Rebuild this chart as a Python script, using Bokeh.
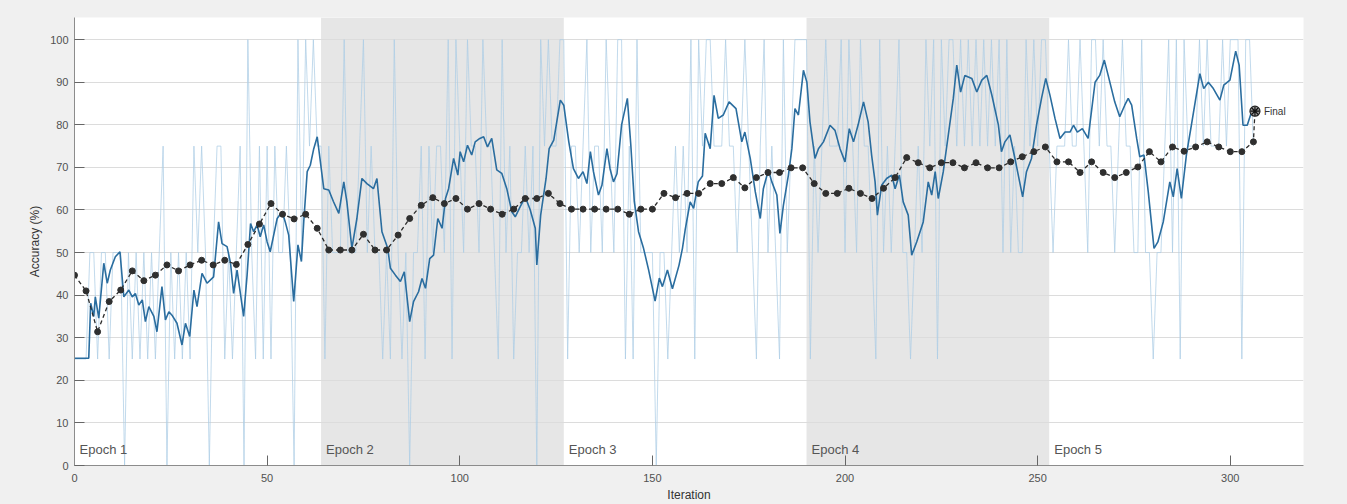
from bokeh.plotting import figure
from bokeh.models import Range1d, FixedTicker
from bokeh.core.properties import value
from bokeh.embed import file_html
from bokeh.resources import INLINE

FONT = "Liberation Sans"

# ---------------- data ----------------
epoch_starts = [0, 64, 127, 190, 253]
epoch_ends = [64, 127, 190, 253, 319]
epoch_labels = ["Epoch 1", "Epoch 2", "Epoch 3", "Epoch 4", "Epoch 5"]
epoch_shaded = [False, True, False, True, False]

x_ticks = [0, 50, 100, 150, 200, 250, 300]
y_ticks = [0, 10, 20, 30, 40, 50, 60, 70, 80, 90, 100]

# raw mini-batch training accuracy, one value per iteration (0..306)
raw_e1 = [25, 25, 25, 25, 50, 50, 25, 50, 50, 25,
          50, 50, 50, 0, 50, 25, 50, 25, 50, 25,
          50, 25, 50, 75, 0, 50, 25, 50, 25, 50,
          25, 75, 50, 75, 50, 0, 50, 75, 75, 25,
          50, 25, 50, 75, 0, 100, 50, 25, 75, 25,
          75, 25, 75, 50, 50, 75, 50, 0, 100, 50,
          100, 75, 100, 75]
raw_e2 = [75, 25, 75, 50, 50, 50, 100, 50, 50, 50,
          75, 100, 50, 75, 50, 50, 25, 50, 25, 100,
          50, 25, 50, 0, 50, 50, 75, 25, 75, 50,
          75, 75, 50, 100, 25, 100, 75, 50, 100, 75,
          75, 50, 100, 75, 75, 50, 25, 100, 50, 75,
          25, 50, 50, 75, 50, 75, 0, 100, 75, 100,
          75, 75, 100]
raw_e3 = [100, 25, 75, 75, 50, 75, 100, 50, 75, 75,
          50, 100, 75, 50, 100, 100, 25, 75, 25, 100,
          50, 50, 50, 50, 0, 50, 50, 25, 50, 75,
          50, 75, 50, 100, 25, 100, 75, 100, 100, 75,
          75, 75, 100, 75, 75, 50, 75, 100, 75, 50,
          25, 75, 100, 50, 75, 50, 25, 100, 50, 75,
          100, 100, 100]
raw_e4 = [100, 25, 75, 50, 75, 100, 75, 75, 75, 100,
          50, 100, 75, 50, 100, 75, 75, 50, 25, 100,
          50, 75, 50, 75, 100, 50, 50, 25, 50, 75,
          50, 100, 75, 100, 25, 100, 75, 100, 100, 75,
          100, 75, 100, 75, 100, 75, 100, 75, 100, 75,
          100, 50, 100, 50, 75, 50, 50, 100, 75, 100,
          75, 100, 100]
raw_e5 = [75, 50, 75, 75, 75, 100, 75, 75, 100, 75,
          50, 100, 100, 75, 100, 75, 75, 50, 75, 100,
          75, 75, 50, 50, 100, 50, 50, 25, 50, 50,
          75, 100, 50, 100, 25, 100, 75, 75, 75, 100,
          75, 100, 75, 75, 75, 100, 75, 100, 100, 100,
          25, 100, 100, 75]
raw_acc = raw_e1 + raw_e2 + raw_e3 + raw_e4 + raw_e5
raw_iter = list(range(len(raw_acc)))

# smoothed training accuracy (vertices)
smooth_iter = [
    0, 3.7, 4.2, 5.0, 5.4, 6.3, 7.6, 8.5, 9.3, 10.6, 11.8, 12.8, 14.1, 15.0, 15.8,
    16.7, 17.6, 18.4, 19.3, 20.6, 21.4, 22.7, 23.6, 24.5, 25.3, 26.6, 27.9, 28.8,
    29.9, 31.0, 31.8, 33.1, 34.4, 36.1, 37.4, 38.3, 39.6, 40.5, 41.3, 42.2, 43.9,
    44.8, 45.7, 46.5, 47.4, 48.2, 49.1, 50.0, 50.8, 51.7, 52.6, 53.9, 54.7, 55.6,
    56.9, 58.0, 58.9, 59.5, 60.4, 61.2, 62.1, 63.0,
    64.7, 66.0, 67.2, 68.6, 69.9, 70.7, 72.0, 73.3, 74.6, 75.9, 77.6, 78.5, 79.8,
    81.3, 82.0, 83.3, 84.6, 85.6, 87.0, 88.0, 89.3, 90.2, 91.1, 92.2, 93.2, 94.3,
    95.4, 96.3, 97.1, 98.4, 99.5, 100.1, 101.0, 102.0, 103.1, 104.0, 105.2, 106.2,
    107.2, 108.3, 109.6, 110.9, 112.2, 113.5, 114.4, 115.7, 117.0, 118.3, 119.6,
    120.0, 121.0, 122.4, 123.2, 124.4, 126.1, 127.0,
    128.3, 129.5, 130.8, 132.0, 133.0, 133.9, 134.7, 136.0, 136.9, 138.2, 139.0,
    139.9, 140.8, 142.0, 143.5, 144.4, 145.3, 146.4, 147.7, 149.0, 150.7, 151.8,
    152.6, 153.9, 155.2, 156.9, 157.8, 158.5, 159.8, 160.7, 161.9, 163.0, 163.7,
    165.0, 166.0, 167.1, 168.4, 169.9, 171.7, 173.2, 174.0, 175.4, 176.7, 178.0,
    178.8, 180.1, 181.0, 182.3, 183.1, 184.0, 185.3, 186.2, 187.0, 187.9, 189.2,
    190.1, 190.9, 192.2, 193.1, 194.4, 196.1, 197.4, 198.7, 200.0, 201.1, 202.2,
    203.4, 204.8, 206.0, 206.9, 207.8, 208.4, 209.5, 210.8, 212.1, 213.0, 214.1,
    215.1, 216.4, 217.3, 218.6, 220.3, 221.6, 222.5, 223.4, 224.2, 225.5, 226.8,
    228.1, 229.0, 230.0, 231.1, 232.9, 234.2, 235.5, 236.8, 238.1, 239.8, 240.6,
    241.5, 242.8, 244.1, 246.1, 247.1, 248.4, 249.7, 251.0, 252.1,
    253.2, 254.5, 255.8, 257.1, 258.4, 259.3, 260.3, 261.6, 263.1, 264.9, 266.1,
    267.3, 268.3, 270.0, 271.3, 272.6, 273.5, 274.4, 275.7, 276.5, 277.6, 278.7,
    280.2, 281.2, 282.6, 284.3, 285.2, 286.2, 287.3, 288.6, 289.9, 292.1, 293.1,
    294.3, 295.6, 297.3, 298.3, 299.9, 301.4, 302.3, 303.3, 304.4, 305.5, 306.4]
smooth_acc = [
    25.2, 25.2, 38.1, 35.0, 39.6, 34.6, 47.5, 42.8, 45.9, 49.0, 50.2, 39.6, 41.2, 39.6, 40.4,
    37.7, 38.9, 33.8, 37.3, 35.0, 31.4, 42.0, 34.2, 36.1, 35.3, 33.4, 28.3, 33.4,
    30.3, 41.2, 37.3, 45.1, 42.8, 44.3, 57.2, 52.1, 51.4, 47.5, 40.4, 45.9, 35.0,
    44.7, 56.8, 54.9, 56.5, 53.7, 56.5, 52.5, 50.2, 54.1, 58.0, 59.6, 57.2, 54.1,
    38.5, 51.8, 47.9, 57.2, 69.0, 70.5, 74.4, 77.2,
    65.0, 64.7, 62.0, 59.2, 66.6, 61.9, 51.0, 58.0, 67.4, 66.2, 65.0, 67.4, 54.9,
    51.0, 46.3, 44.7, 43.2, 45.5, 33.8, 38.5, 40.8, 43.9, 41.6, 48.6, 49.4, 58.0,
    55.7, 62.7, 65.0, 72.1, 68.2, 73.7, 71.3, 75.2, 72.9, 76.0, 76.8, 77.2,
    74.8, 76.8, 69.4, 68.6, 65.0, 59.6, 58.4, 60.8, 63.1, 60.0, 55.7,
    47.1, 58.8, 67.4, 74.4, 76.4, 85.8, 84.6,
    76.0, 69.7, 67.4, 69.0, 66.2, 73.7, 69.0, 63.5, 65.8, 74.4, 69.7,
    66.6, 68.5, 80.0, 86.2, 75.2, 62.0, 54.9, 51.0, 46.0, 38.6, 44.0,
    42.0, 45.9, 41.5, 47.0, 51.0, 55.3, 61.9, 60.4, 66.6, 68.0, 78.0,
    74.4, 86.9, 81.5, 82.3, 85.4, 83.8, 76.0, 78.3, 72.1, 64.3, 58.0,
    65.0, 69.4, 66.6, 63.5, 54.5, 61.1, 68.2, 74.4, 83.8, 82.3, 92.8,
    90.0, 80.7, 72.1, 74.4, 76.0, 79.9, 78.7, 74.4, 71.3, 79.1, 76.0,
    80.0, 85.4, 80.7, 72.9, 66.6, 58.8, 65.8, 67.4, 68.2, 65.0, 68.2,
    61.9, 58.8, 49.4, 52.5, 57.2, 66.6, 63.5, 69.0, 62.7, 69.0, 77.6,
    86.2, 94.0, 87.7, 91.6, 90.9, 87.7, 90.5, 91.6, 87.0, 80.0, 73.7,
    76.0, 77.6, 72.1, 63.1, 69.0, 72.1, 79.9, 86.2, 90.9,
    86.9, 81.5, 76.8, 78.3, 78.3, 79.9, 78.3, 79.1, 76.8, 90.0, 91.6,
    95.2, 91.6, 85.4, 81.9, 84.6, 86.2, 84.6, 76.8, 72.5, 72.9, 64.3,
    51.0, 52.5, 57.2, 66.6, 63.1, 69.7, 62.7, 72.9, 79.9, 92.0, 88.5,
    90.0, 88.5, 85.8, 89.3, 90.5, 97.3, 94.0, 79.9, 79.9, 83.0, 83.4]

# validation accuracy, every 3 iterations
val_iter = list(range(0, 307, 3))
val_acc = [44.7, 41.0, 31.4, 38.5, 41.2, 45.7, 43.4, 44.7, 47.1, 45.7,
           47.1, 48.2, 47.1, 48.2, 47.2, 51.9, 56.7, 61.5, 59.0, 57.9,
           59.0, 55.7, 50.6, 50.6, 50.6, 54.3, 50.6, 50.6, 54.1, 58.0,
           61.1, 62.9, 61.5, 62.7, 60.2, 61.5, 60.2, 59.0, 60.2, 62.7,
           62.7, 63.9, 61.5, 60.2, 60.2, 60.2, 60.2, 60.2, 59.0, 60.2,
           60.2, 63.9, 62.9, 63.9, 63.9, 66.2, 66.2, 67.6, 65.2, 67.6,
           68.8, 68.8, 69.9, 69.9, 66.2, 63.9, 63.9, 65.1, 63.9, 62.7,
           65.1, 67.6, 72.3, 71.1, 69.9, 71.1, 71.1, 69.9, 71.1, 69.9,
           69.9, 71.3, 72.5, 73.7, 74.8, 71.3, 71.3, 68.8, 71.3, 68.8,
           67.6, 68.8, 70.1, 73.7, 71.3, 74.8, 73.8, 74.8, 76.0, 74.8,
           73.7, 73.7, 76.0]

final_iter = [306.4]
final_acc = [83.2]
final_label = ["Final"]

# ---------------- figure ----------------
p = figure(width=1347, height=504, x_range=Range1d(0, 319), y_range=Range1d(0, 105.2),
           output_backend="svg", toolbar_location=None, title=None,
           min_border_left=74, min_border_right=44, min_border_top=17, min_border_bottom=38,
           background_fill_color="#ffffff", border_fill_color="#f0f0f0")
p.outline_line_color = None

# epoch shading
sh_left = [s for s, f in zip(epoch_starts, epoch_shaded) if f]
sh_right = [e for e, f in zip(epoch_ends, epoch_shaded) if f]
p.quad(left=sh_left, right=sh_right, bottom=0, top=105.2,
       fill_color="#e6e6e6", line_color=None, level="image")

# axes
p.xaxis.ticker = FixedTicker(ticks=x_ticks)
p.yaxis.ticker = FixedTicker(ticks=y_ticks)
for ax in (p.xaxis[0], p.yaxis[0]):
    ax.axis_line_color = "#8c8c8c"
    ax.axis_line_width = 1
    ax.major_tick_in = 10
    ax.major_tick_out = 0
    ax.major_tick_line_color = "#666666"
    ax.minor_tick_line_color = None
    ax.major_label_text_font = FONT
    ax.major_label_text_font_size = "11px"
    ax.major_label_text_color = "#505050"
    ax.axis_label_text_font = FONT
    ax.axis_label_text_font_size = "12px"
    ax.axis_label_text_font_style = "normal"
    ax.axis_label_text_color = "#333333"
p.xaxis.axis_label = "Iteration"
p.yaxis.axis_label = "Accuracy (%)"
p.xaxis.major_label_standoff = 8
p.xaxis.axis_label_standoff = 3
p.yaxis.major_label_standoff = 6
p.yaxis.axis_label_standoff = 5

p.xgrid.grid_line_color = None
p.ygrid.grid_line_color = "#dcdcdc"
p.ygrid.grid_line_width = 1

# series
p.line(raw_iter, raw_acc, line_color="#aecde6", line_width=1, line_alpha=0.75)
p.line(smooth_iter, smooth_acc, line_color="#2a6d9f", line_width=1.6)
p.line(val_iter + final_iter, val_acc + final_acc, line_color="#2b2b2b",
       line_width=1.3, line_dash="4 3")
p.scatter(val_iter, val_acc, size=6, fill_color="#2f2f2f", line_color="#2f2f2f")
p.scatter(final_iter, final_acc, marker="circle", size=10,
          fill_color="#9a9a9a", line_color="#222222", line_width=1.2)
p.scatter(final_iter, final_acc, marker="asterisk", size=9,
          line_color="#111111", line_width=1.2)
p.text(final_iter, final_acc, text=final_label, x_offset=9, text_baseline="middle",
       text_font=value(FONT), text_font_size="10px", text_color="#333333")

# epoch labels
p.text(epoch_starts, [0] * len(epoch_starts), text=epoch_labels, x_offset=5, y_offset=-16,
       text_baseline="middle", text_align="left",
       text_font=value(FONT), text_font_size="13px", text_color="#555555")

html = file_html(p, INLINE)
html = html.replace("<head>", "<head><style>body{background:#f0f0f0;}</style>", 1)
open("out.html", "w").write(html)
